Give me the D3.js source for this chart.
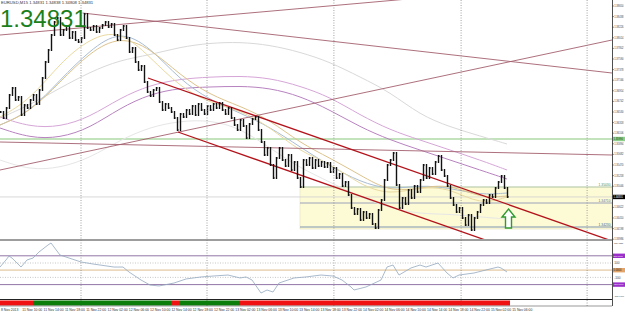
<!DOCTYPE html>
<html>
<head>
<meta charset="utf-8">
<script src="https://cdn.jsdelivr.net/npm/d3@7/dist/d3.min.js"></script>
<style>
body { margin: 0; background: #fff; }
svg { display: block; }
text { font-family: "Liberation Sans", Arial, sans-serif; }
</style>
</head>
<body>
<svg id="chart" width="625" height="313"></svg>
<script>
// EURUSD M15 - bars, moving averages, channel, CCI and trend strip

var closes = [
  1.3653,1.3641,1.3661,1.3687,1.3701,1.3677,1.3683,1.3647,1.3667,1.3661,
  1.3677,1.3687,1.3669,1.3697,1.3721,1.3753,1.3777,1.3807,1.3833,1.3841,
  1.3807,1.3817,1.3825,1.3801,1.3813,1.3797,1.3793,1.3801,1.3849,1.3821,
  1.3817,1.3825,1.3813,1.3821,1.3827,1.3833,1.3823,1.3829,1.3807,1.3797,
  1.3817,1.3825,1.3801,1.3773,1.3781,1.3753,1.3737,1.3745,1.3713,1.3693,
  1.3685,1.3697,1.3701,1.3673,1.3657,1.3669,1.3661,1.3653,1.3641,1.3617,
  1.3649,1.3643,1.3657,1.3649,1.3665,1.3647,1.3669,1.3657,1.3649,1.3665,
  1.3657,1.3669,1.3661,1.3671,1.3657,1.3649,1.3661,1.3641,1.3627,1.3617,
  1.3637,1.3625,1.3601,1.3629,1.3639,1.3643,1.3617,1.3593,1.3567,1.3581,
  1.3547,1.3521,1.3561,1.3581,1.3557,1.3545,1.3567,1.3537,1.3553,1.3521,
  1.3503,1.3557,1.3547,1.3561,1.3541,1.3557,1.3545,1.3553,1.3543,1.3551,
  1.3533,1.3541,1.3521,1.3529,1.3505,1.3513,1.3487,1.3461,1.3449,1.3459,
  1.3437,1.3453,1.3441,1.3449,1.3429,1.3421,1.3457,1.3477,1.3517,1.3547,
  1.3557,1.3571,1.3507,1.3461,1.3481,1.3469,1.3497,1.3481,1.3505,1.3493,
  1.3517,1.3547,1.3521,1.3541,1.3529,1.3553,1.3565,1.3537,1.3525,1.3505,
  1.3481,1.3467,1.3453,1.3461,1.3441,1.3427,1.3447,1.3417,1.3441,1.3453,
  1.3467,1.3477,1.3471,1.3487,1.3483,1.3501,1.3513,1.3525,1.3501,1.34831
];

// moving averages sampled every 10 bars
var maBars  = [0,10,20,30,40,50,60,70,80,90,100,110,120,130,140,150,160,169];
var maFast  = [1.3643,1.3677,1.3751,1.3801,1.3817,1.3763,1.3703,1.3671,1.3657,1.3623,1.3573,1.3551,1.3507,1.3487,1.3503,1.3501,1.3467,1.3483];
var maMid   = [1.3627,1.3653,1.3713,1.3773,1.3805,1.3781,1.3727,1.3687,1.3665,1.3637,1.3591,1.3561,1.3527,1.3493,1.3501,1.3509,1.3481,1.3485];
var maBlue  = [1.3627,1.3653,1.3717,1.3777,1.3817,1.3783,1.3717,1.3677,1.3651,1.3623,1.3583,1.3545,1.3513,1.3497,1.3507,1.3501,1.3487,1.3491];
var maGray  = [1.3641,1.3667,1.3701,1.3733,1.3757,1.3767,1.3783,1.3791,1.3793,1.3787,1.3773,1.3753,1.3723,1.3693,1.3647,1.3623,1.3605,1.3589];
var maGray2 = [1.3557,1.3537,1.3541,1.3561,1.3597,1.3623,1.3635,1.3637,1.3621,1.3581,1.3541,1.3513,1.3483,1.3461,1.3449,1.3449,1.3443,1.3439];
var envUp   = [1.3643,1.3623,1.3623,1.3643,1.3681,1.3707,1.3719,1.3723,1.3725,1.3721,1.3705,1.3683,1.3647,1.3617,1.3597,1.3577,1.3557,1.3537];
var envLow  = [1.3621,1.3601,1.3601,1.3621,1.3661,1.3689,1.3701,1.3703,1.3705,1.3701,1.3685,1.3657,1.3623,1.3597,1.3577,1.3557,1.3537,1.3519];

// trend lines [bar1, price1, bar2, price2]
var trendLines = [
  [0, 1.3807, 204, 1.3915],
  [27.5, 1.3851, 204, 1.3731],
  [0, 1.3537, 204, 1.3797],
  [0, 1.3593, 204, 1.3567]
];
var channelLines = [
  [49.3, 1.3721, 204, 1.3395],
  [59.3, 1.3613, 204, 1.3308]
];

var greenLevel = 1.3599;
var boxStart = 100, boxTop = 1.3503, boxMid = 1.3471, boxLow = 1.3423, boxBottom = 1.3419;
var lastPrice = 1.34831;
var arrowBar = 169.5, arrowTip = 1.3459, arrowBase = 1.3421;

var priceTicks = [1.38650,1.38438,1.38226,1.38014,1.37802,1.37590,1.37378,1.37166,1.36954,1.36742,
  1.36530,1.36318,1.36106,1.35894,1.35682,1.35470,1.35258,1.35046,1.34834,1.34622,1.34410,1.34198,1.33986];

var dayBars = [27, 69, 111.3, 153.7, 195.7];

// CCI
var cciBars = [0,2,3,4,7,9,11,13,16,17,18,20,22,27,31,38,41,43,47,50,53,58,62,67,71,76,80,82,84,87,89,91,93,98,102,107,111,114,117,118,122,127,129,131,133,137,140,142,146,149,151,153,158,162,166,167,169];
var cciVals = [44,142,197,169,44,142,169,253,350,378,322,211,183,114,86,44,44,-25,-136,-206,-219,-178,-122,-94,-81,-67,-108,-94,-136,-317,-275,-303,-178,-108,-94,-67,-81,-136,-233,-275,-233,-136,44,72,-67,31,72,44,100,-39,-108,-67,-39,3,44,31,-25];
var cciLevels = [200, 100, 0, -100, -200];

// trend strip
var segStart = [0, 11, 57, 60, 80];
var segEnd   = [11, 57, 60, 80, 170];
var segState = ['down', 'up', 'down', 'up', 'down'];

var timeLabels = ["8 Nov 2013","11 Nov 10:00","11 Nov 14:00","11 Nov 18:00","11 Nov 22:00","12 Nov 02:00",
  "12 Nov 06:00","12 Nov 10:00","12 Nov 14:00","12 Nov 18:00","12 Nov 22:00","13 Nov 02:00","13 Nov 06:00",
  "13 Nov 10:00","13 Nov 14:00","13 Nov 18:00","13 Nov 22:00","14 Nov 02:00","14 Nov 06:00","14 Nov 10:00",
  "14 Nov 14:00","14 Nov 18:00","14 Nov 22:00","15 Nov 02:00","15 Nov 06:00"];

var svg = d3.select('#chart');
var axisX = 612;
var x = d3.scaleLinear().domain([0, 204]).range([0, 612]);
var y = d3.scaleLinear().domain([1.3399, 1.3877]).range([239, 0]);
var yc = d3.scaleLinear().domain([-400, 400]).range([299, 241.4]);

var defs = svg.append('defs');
defs.append('clipPath').attr('id', 'mainClip').append('rect').attr('x', 0).attr('y', 0).attr('width', axisX).attr('height', 239);
defs.append('clipPath').attr('id', 'indClip').append('rect').attr('x', 0).attr('y', 241).attr('width', axisX).attr('height', 58);

var main = svg.append('g').attr('clip-path', 'url(#mainClip)');
var ind = svg.append('g').attr('clip-path', 'url(#indClip)');

// day separators
svg.selectAll('.day').data(dayBars).enter().append('line')
  .attr('x1', d => x(d)).attr('x2', d => x(d)).attr('y1', 0).attr('y2', 306)
  .attr('stroke', '#8a8a8a').attr('stroke-width', 0.8).attr('stroke-dasharray', '1,1.5');

// yellow zone
main.append('rect').attr('x', x(boxStart)).attr('y', y(boxTop))
  .attr('width', axisX - x(boxStart)).attr('height', y(boxBottom) - y(boxTop))
  .attr('fill', '#fdfbd6').attr('stroke', '#e4e2b8').attr('stroke-width', 0.6);

var hline = function(p, x0, color, w) {
  main.append('line').attr('x1', x0).attr('x2', axisX).attr('y1', y(p)).attr('y2', y(p))
    .attr('stroke', color).attr('stroke-width', w);
};
hline(boxTop, x(boxStart), '#b5ccb0', 1);
hline(boxMid, x(boxStart), '#9aa0b8', 1);
hline(boxLow, x(boxStart), '#7f93b0', 1);
hline(lastPrice, 0, '#cfcfcf', 0.8);
hline(greenLevel, 0, '#c2e3bb', 2);

// moving averages
var maLine = d3.line().x((d, i) => x(maBars[i])).y(d => y(d)).curve(d3.curveBasis);
var mas = [
  [maGray2, '#e6e6e6', 1],
  [maGray, '#d9d9d9', 1],
  [envUp, '#d6a6d8', 1],
  [envLow, '#b883c0', 1],
  [maBlue, '#a9bdd3', 1],
  [maMid, '#ddc38c', 1],
  [maFast, '#ead9a0', 1]
];
mas.forEach(function(m) {
  main.append('path').datum(m[0]).attr('d', maLine)
    .attr('fill', 'none').attr('stroke', m[1]).attr('stroke-width', m[2]);
});

// trend lines
main.selectAll('.trend').data(trendLines).enter().append('line')
  .attr('x1', d => x(d[0])).attr('y1', d => y(d[1])).attr('x2', d => x(d[2])).attr('y2', d => y(d[3]))
  .attr('stroke', '#a4606e').attr('stroke-width', 0.9);
main.selectAll('.chan').data(channelLines).enter().append('line')
  .attr('x1', d => x(d[0])).attr('y1', d => y(d[1])).attr('x2', d => x(d[2])).attr('y2', d => y(d[3]))
  .attr('stroke', '#b3141c').attr('stroke-width', 1.3);

// price bars
var bars = main.append('g').attr('stroke', '#111').attr('stroke-width', 1.4);
closes.forEach(function(c, i) {
  var o = i > 0 ? closes[i - 1] : c;
  var cx = x(i) + 0.5;
  bars.append('line').attr('x1', cx).attr('x2', cx)
    .attr('y1', y(Math.max(o, c)) - 1).attr('y2', y(Math.min(o, c)) + 1);
  bars.append('line').attr('x1', cx).attr('x2', cx + 1.4).attr('y1', y(c)).attr('y2', y(c)).attr('stroke-width', 0.9);
});

// up arrow
var ax = x(arrowBar), at = y(arrowTip), ab = y(arrowBase);
var ah = at + 8;
main.append('path')
  .attr('d', 'M' + ax + ',' + at + 'L' + (ax + 6.5) + ',' + ah + 'L' + (ax + 3) + ',' + ah +
    'L' + (ax + 3) + ',' + ab + 'L' + (ax - 3) + ',' + ab + 'L' + (ax - 3) + ',' + ah +
    'L' + (ax - 6.5) + ',' + ah + 'Z')
  .attr('fill', '#fff').attr('stroke', '#2f9a2f').attr('stroke-width', 1.4).attr('stroke-linejoin', 'miter');

// header texts
svg.append('text').attr('x', 1).attr('y', 4).attr('font-size', 4.2).attr('fill', '#333')
  .text('EURUSD,M15  1.34831 1.34838 1.34808 1.34831');
svg.append('text').attr('x', 0).attr('y', 26.5).attr('font-size', 24).attr('fill', '#1b801b')
  .text('1.34831');

// panel separators
svg.append('line').attr('x1', 0).attr('x2', axisX).attr('y1', 240).attr('y2', 240)
  .attr('stroke', '#7c7c7c').attr('stroke-width', 1.6);

// CCI levels
var lvlStyle = { 200: ['#9275a6', 1, null], 100: ['#b0b0b0', 0.7, '1,1.5'], 0: ['#ecd9bd', 1.8, null], '-100': ['#b0b0b0', 0.7, '1,1.5'], '-200': ['#9275a6', 1, null] };
ind.selectAll('.lvl').data(cciLevels).enter().append('line')
  .attr('x1', 0).attr('x2', axisX).attr('y1', d => yc(d)).attr('y2', d => yc(d))
  .attr('stroke', d => lvlStyle[d][0]).attr('stroke-width', d => lvlStyle[d][1])
  .attr('stroke-dasharray', d => lvlStyle[d][2]);
ind.append('path').datum(cciVals)
  .attr('d', d3.line().x((d, i) => x(cciBars[i])).y(d => yc(d)))
  .attr('fill', 'none').attr('stroke', '#93a8bf').attr('stroke-width', 0.8);

svg.append('line').attr('x1', 0).attr('x2', axisX).attr('y1', 299.5).attr('y2', 299.5)
  .attr('stroke', '#222').attr('stroke-width', 1);

// trend strip
svg.selectAll('.seg').data(segStart).enter().append('rect')
  .attr('x', (d, i) => x(d)).attr('y', 300.5)
  .attr('width', (d, i) => x(segEnd[i]) - x(d)).attr('height', 5)
  .attr('fill', (d, i) => segState[i] == 'up' ? '#0b7d0b' : '#f01212');
svg.append('line').attr('x1', 0).attr('x2', axisX).attr('y1', 306).attr('y2', 306)
  .attr('stroke', '#555').attr('stroke-width', 0.6);

// time axis
svg.selectAll('.tl').data(timeLabels).enter().append('text')
  .attr('x', (d, i) => 1 + i * 21.3).attr('y', 311)
  .attr('font-size', 3.4).attr('fill', '#333').text(d => d);

// price axis
svg.append('line').attr('x1', axisX + 0.5).attr('x2', axisX + 0.5).attr('y1', 0).attr('y2', 306)
  .attr('stroke', '#222').attr('stroke-width', 0.8);

// small axis texts, shrunk so long ones stay inside the 13px strip
var axisText = function(yy, fill, label, x0) {
  var fs = label.length > 7 ? 2.2 : (label.length > 5 ? 2.6 : 3.2);
  return svg.append('text').attr('x', x0 || axisX + 2.2).attr('y', yy + fs * 0.36)
    .attr('font-size', fs).attr('fill', fill).text(label);
};

var ticks = svg.append('g');
priceTicks.forEach(function(p) {
  ticks.append('line').attr('x1', axisX).attr('x2', axisX + 2).attr('y1', y(p)).attr('y2', y(p))
    .attr('stroke', '#333').attr('stroke-width', 0.5);
  axisText(y(p), '#444', p.toFixed(5));
});

var axisBox = function(yy, bg, fg, label) {
  svg.append('rect').attr('x', axisX + 1).attr('y', yy - 2.2).attr('width', 12).attr('height', 4.4).attr('fill', bg);
  axisText(yy, fg, label, axisX + 1.5);
};
axisBox(y(greenLevel), '#8fd08a', '#114411', greenLevel.toFixed(5));
axisBox(y(lastPrice), '#000', '#fff', lastPrice.toFixed(5));

// zone labels left of the axis
[[boxTop, '#4f8f4f'], [boxMid, '#6a6f9a'], [boxLow, '#3e5e9a']].forEach(function(b) {
  svg.append('text').attr('x', axisX - 1.5).attr('y', y(b[0]) - 0.6).attr('text-anchor', 'end')
    .attr('font-size', 3.3).attr('fill', b[1]).text(b[0].toFixed(5));
});

// CCI axis
axisText(243.5, '#444', '286.7320');
axisText(yc(100), '#444', '100');
axisText(yc(-100), '#444', '-100');
axisText(296.5, '#444', '-287.8400');
axisBox(yc(200), '#9b2fc9', '#fff', '200.0000');
axisBox(yc(0), '#e2a468', '#222', '0.0000');
axisBox(yc(-200), '#9b2fc9', '#fff', '-200.0000');
</script>
</body>
</html>
